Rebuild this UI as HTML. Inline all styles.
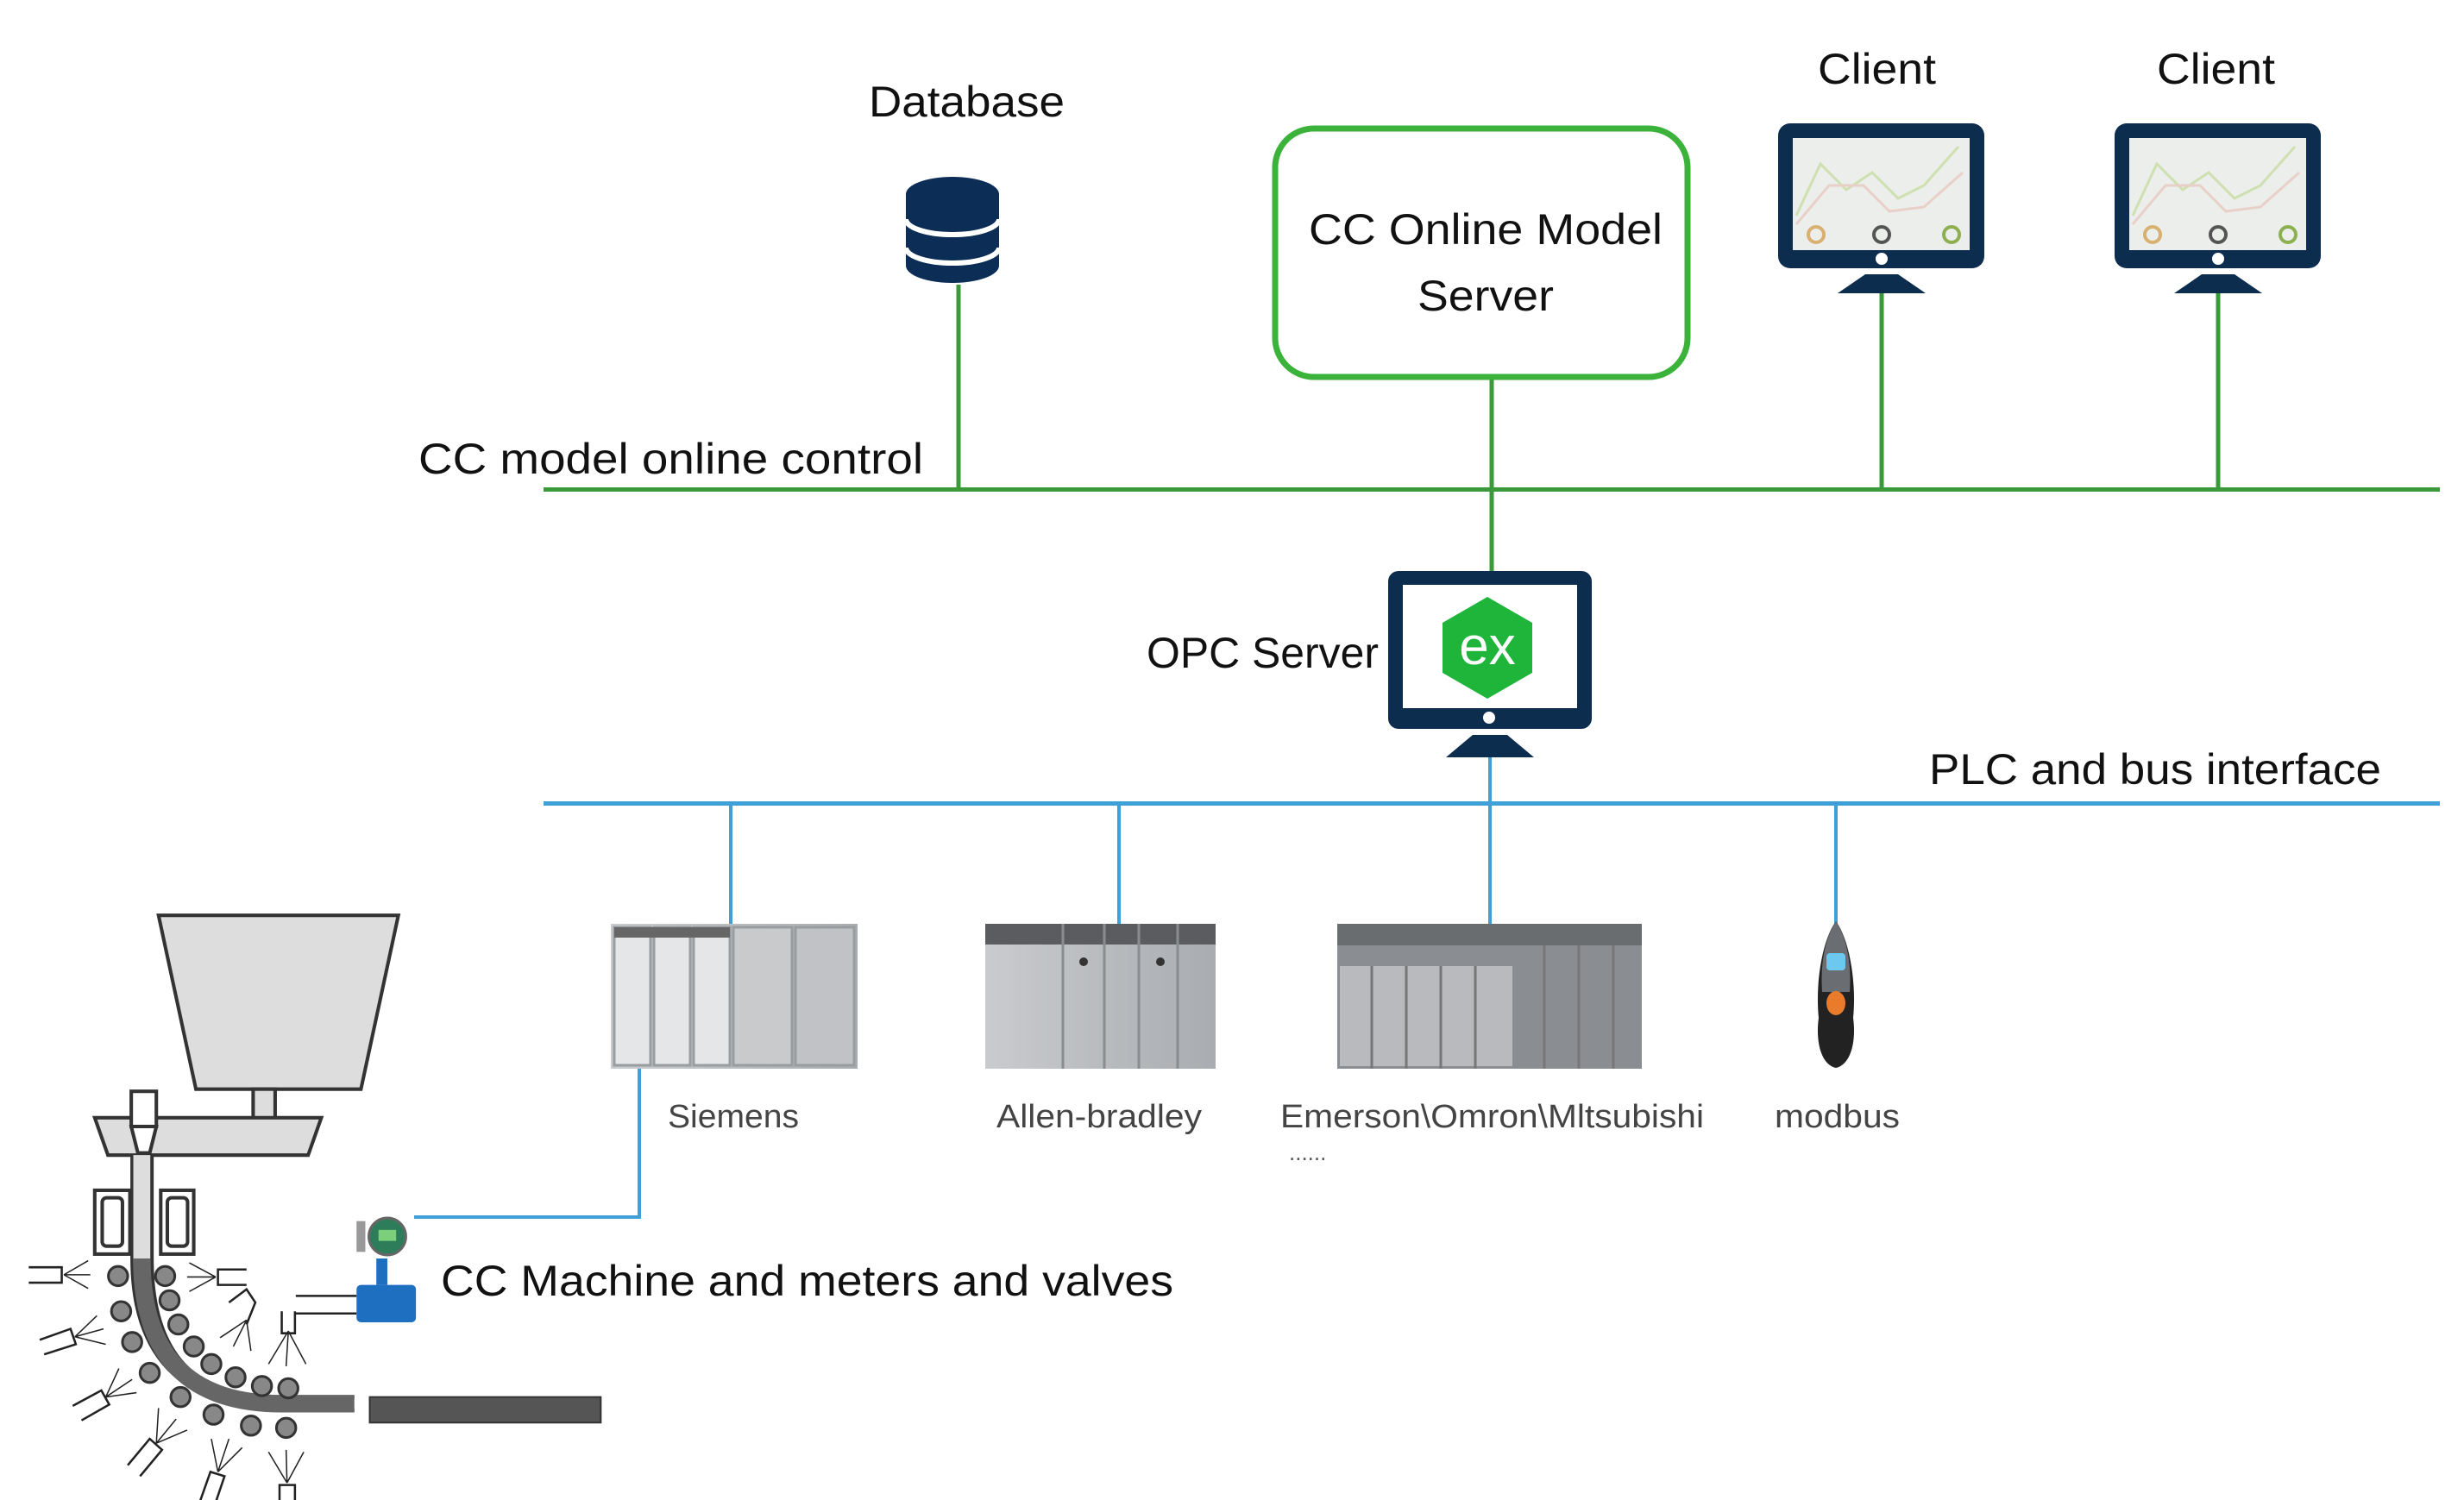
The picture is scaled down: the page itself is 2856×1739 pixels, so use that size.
<!DOCTYPE html>
<html><head><meta charset="utf-8"><style>
html,body{margin:0;padding:0;background:#fff;}
svg{display:block;}
text{font-family:"Liberation Sans",sans-serif;fill:#111;}
</style></head><body>
<svg width="2856" height="1739" viewBox="0 0 2856 1739" xmlns="http://www.w3.org/2000/svg">
<defs>
<linearGradient id="pg" x1="0" x2="1"><stop offset="0" stop-color="#c9cbce"/><stop offset="1" stop-color="#a9acb0"/></linearGradient>
</defs>
<!-- buses -->
<rect x="630" y="565" width="2198" height="5" fill="#3a9a3a"/>
<rect x="630" y="929" width="2198" height="5" fill="#3fa0d8"/>
<!-- green verticals -->
<g stroke="#3a9a3a" stroke-width="5">
<line x1="1111" y1="330" x2="1111" y2="567"/>
<line x1="1729" y1="439" x2="1729" y2="662"/>
<line x1="2181" y1="340" x2="2181" y2="567"/>
<line x1="2571" y1="340" x2="2571" y2="567"/>
</g>
<!-- blue verticals -->
<g stroke="#3fa0d8" stroke-width="4" fill="none">
<line x1="847" y1="931" x2="847" y2="1071"/>
<line x1="1297" y1="931" x2="1297" y2="1071"/>
<line x1="1727" y1="878" x2="1727" y2="1071"/>
<line x1="2128" y1="931" x2="2128" y2="1071"/>
<polyline points="741,1239 741,1411 480,1411"/>
</g>
<!-- database -->
<g fill="#0c2d55">
<path d="M1050 225 A54 20 0 0 1 1158 225 L1158 308 A54 20 0 0 1 1050 308 Z"/>
</g>
<path d="M1050 254 A54 18 0 0 0 1158 254" stroke="#fff" stroke-width="6" fill="none"/>
<path d="M1050 287 A54 18 0 0 0 1158 287" stroke="#fff" stroke-width="6" fill="none"/>
<text x="1007" y="135" font-size="50" textLength="227" lengthAdjust="spacingAndGlyphs">Database</text>
<!-- model server box -->
<rect x="1478" y="149" width="478" height="288" rx="45" fill="#fff" stroke="#3bb33b" stroke-width="7"/>
<text x="1517" y="283" font-size="50" textLength="410" lengthAdjust="spacingAndGlyphs">CC Online Model</text>
<text x="1643" y="360" font-size="50" textLength="158" lengthAdjust="spacingAndGlyphs">Server</text>
<!-- clients -->
<g id="mon">
<rect x="2061" y="143" width="239" height="168" rx="14" fill="#0c2d4e"/>
<rect x="2078" y="160" width="205" height="130" fill="#eceeec"/>
<polyline points="2082,250 2110,190 2140,220 2170,200 2200,230 2230,215 2270,170" fill="none" stroke="#cfe0b0" stroke-width="3"/>
<polyline points="2082,260 2120,215 2160,215 2190,245 2230,240 2275,200" fill="none" stroke="#e8d0c8" stroke-width="3"/>
<circle cx="2105" cy="272" r="9" fill="none" stroke="#d8b070" stroke-width="4"/>
<circle cx="2181" cy="272" r="9" fill="none" stroke="#555" stroke-width="4"/>
<circle cx="2262" cy="272" r="9" fill="none" stroke="#8cb050" stroke-width="4"/>
<circle cx="2181" cy="300" r="7" fill="#fff"/>
<polygon points="2162,318 2200,318 2232,340 2130,340" fill="#0c2d4e"/>
</g>
<use href="#mon" transform="translate(390,0)"/>
<text x="2107" y="97" font-size="50" textLength="137" lengthAdjust="spacingAndGlyphs">Client</text>
<text x="2500" y="97" font-size="50" textLength="137" lengthAdjust="spacingAndGlyphs">Client</text>
<text x="485" y="549" font-size="50" textLength="585" lengthAdjust="spacingAndGlyphs">CC model online control</text>
<!-- OPC monitor -->
<rect x="1609" y="662" width="236" height="183" rx="12" fill="#0c2d4e"/>
<rect x="1626" y="678" width="202" height="143" fill="#fff"/>
<polygon points="1724,692 1776,722 1776,780 1724,810 1672,780 1672,722" fill="#1fb53a"/>
<text x="1724" y="770" font-size="62" text-anchor="middle" style="fill:#fff">ex</text>
<circle cx="1726" cy="832" r="7" fill="#fff"/>
<polygon points="1707,852 1747,852 1778,878 1676,878" fill="#0c2d4e"/>
<text x="1329" y="774" font-size="50" textLength="269" lengthAdjust="spacingAndGlyphs">OPC Server</text>
<text x="2236" y="909" font-size="50" textLength="524" lengthAdjust="spacingAndGlyphs">PLC and bus interface</text>
<!-- Siemens PLC -->
<rect x="708" y="1071" width="286" height="168" fill="url(#pg)"/>
<g fill="#e4e6e8" stroke="#9a9da0" stroke-width="3">
<rect x="712" y="1075" width="42" height="160"/><rect x="758" y="1075" width="42" height="160"/><rect x="804" y="1075" width="42" height="160"/>
<rect x="850" y="1075" width="68" height="160" fill="#c8cacc"/><rect x="922" y="1075" width="68" height="160" fill="#c0c2c5"/>
</g>
<rect x="712" y="1075" width="134" height="12" fill="#666"/>
<!-- Allen-bradley -->
<rect x="1142" y="1071" width="267" height="168" fill="url(#pg)"/>
<rect x="1142" y="1071" width="267" height="24" fill="#5a5c60"/>
<g stroke="#8a8d90" stroke-width="3"><line x1="1232" y1="1071" x2="1232" y2="1239"/><line x1="1280" y1="1071" x2="1280" y2="1239"/><line x1="1320" y1="1071" x2="1320" y2="1239"/><line x1="1365" y1="1071" x2="1365" y2="1239"/></g>
<circle cx="1256" cy="1115" r="5" fill="#333"/><circle cx="1345" cy="1115" r="5" fill="#333"/>
<!-- Emerson -->
<rect x="1550" y="1071" width="353" height="168" fill="#8a8d91"/>
<rect x="1550" y="1071" width="353" height="25" fill="#6a6d70"/>
<rect x="1553" y="1120" width="200" height="116" fill="#b8babd"/>
<g stroke="#777" stroke-width="3"><line x1="1590" y1="1120" x2="1590" y2="1239"/><line x1="1630" y1="1120" x2="1630" y2="1239"/><line x1="1670" y1="1120" x2="1670" y2="1239"/><line x1="1710" y1="1120" x2="1710" y2="1239"/><line x1="1790" y1="1096" x2="1790" y2="1239"/><line x1="1830" y1="1096" x2="1830" y2="1239"/><line x1="1870" y1="1096" x2="1870" y2="1239"/></g>
<!-- modbus -->
<path d="M2128 1068 C2112 1090 2104 1140 2108 1180 C2104 1210 2112 1235 2128 1238 C2144 1235 2152 1210 2148 1180 C2152 1140 2144 1090 2128 1068 Z" fill="#222"/>
<path d="M2128 1068 C2114 1090 2110 1120 2112 1150 L2144 1150 C2146 1120 2142 1090 2128 1068 Z" fill="#6a6d72"/>
<rect x="2117" y="1105" width="22" height="20" rx="4" fill="#6cc8ee"/>
<ellipse cx="2128" cy="1163" rx="11" ry="14" fill="#e97b2a"/>
<text x="774" y="1307" font-size="38" textLength="152" lengthAdjust="spacingAndGlyphs" style="fill:#444">Siemens</text>
<text x="1155" y="1307" font-size="38" textLength="238" lengthAdjust="spacingAndGlyphs" style="fill:#444">Allen-bradley</text>
<text x="1484" y="1307" font-size="38" textLength="491" lengthAdjust="spacingAndGlyphs" style="fill:#444">Emerson\Omron\Mltsubishi</text>
<text x="2057" y="1307" font-size="38" textLength="145" lengthAdjust="spacingAndGlyphs" style="fill:#444">modbus</text>
<text x="1494" y="1345" font-size="26" style="fill:#555">......</text>
<text x="511" y="1502" font-size="50" textLength="849" lengthAdjust="spacingAndGlyphs">CC Machine and meters and valves</text>
<!-- CC machine -->
<svg x="0" y="1000" width="800" height="739" viewBox="0 0 1568 1449">
<g stroke="#333" stroke-width="8" fill="#ddd">
<polygon points="360,120 905,120 820,515 445,515"/>
<rect x="575" y="515" width="50" height="110"/>
<polygon points="215,580 730,580 700,665 245,665"/>
<rect x="298" y="520" width="57" height="80" fill="#fff"/>
<polygon points="298,600 355,600 340,660 313,660" fill="#fff"/>
<rect x="215" y="745" width="80" height="145" fill="#fff"/><rect x="232" y="762" width="46" height="110" rx="10" fill="#fff"/>
<rect x="365" y="745" width="75" height="145" fill="#fff"/><rect x="380" y="762" width="46" height="110" rx="10" fill="#fff"/>
</g>
<path d="M300 665 L300 900 Q300 1240 650 1245 L805 1245" stroke="#333" stroke-width="8" fill="none"/>
<path d="M345 665 L345 900 Q345 1215 620 1215 L805 1215" stroke="#333" stroke-width="8" fill="none"/>
<path d="M322 665 L322 900 Q322 1230 640 1230 L805 1230" stroke="#666" stroke-width="40" fill="none"/>
<path d="M322 665 L322 900" stroke="#ddd" stroke-width="38"/>
<rect x="840" y="1215" width="525" height="58" fill="#555" stroke="#333" stroke-width="4"/>
<g fill="#888" stroke="#333" stroke-width="6">
<circle cx="268" cy="940" r="22"/><circle cx="375" cy="940" r="22"/>
<circle cx="275" cy="1020" r="22"/><circle cx="385" cy="995" r="22"/>
<circle cx="300" cy="1090" r="22"/><circle cx="405" cy="1050" r="22"/>
<circle cx="340" cy="1160" r="22"/><circle cx="440" cy="1100" r="22"/>
<circle cx="410" cy="1215" r="22"/><circle cx="480" cy="1140" r="22"/>
<circle cx="485" cy="1255" r="22"/><circle cx="535" cy="1170" r="22"/>
<circle cx="570" cy="1280" r="22"/><circle cx="595" cy="1190" r="22"/>
<circle cx="650" cy="1285" r="22"/><circle cx="655" cy="1195" r="22"/>
</g>
<g stroke="#222" stroke-width="5" fill="none">
<path d="M65 920 H140 V955 H65"/><path d="M560 925 H495 V960 H560"/>
<path d="M90 1085 L160 1060 L172 1095 L100 1118"/><path d="M165 1235 L230 1200 L248 1232 L185 1268"/>
<path d="M290 1370 L340 1310 L368 1335 L318 1395"/><path d="M455 1450 L478 1385 L510 1395 L488 1460"/>
<path d="M635 1485 V1415 H670 V1485"/><path d="M672 985 H810 M672 1025 H810"/>
<path d="M640 1020 V1070 H670 V1020"/><path d="M520 1000 L560 970 L580 1000 L560 1050"/>
</g>
<g stroke="#222" stroke-width="3">
<path d="M145 937 L200 905 M145 937 L205 937 M145 937 L200 968"/>
<path d="M490 942 L430 910 M490 942 L425 942 M490 942 L430 975"/>
<path d="M170 1078 L220 1030 M170 1078 L235 1060 M170 1078 L240 1095"/>
<path d="M240 1215 L270 1150 M240 1215 L300 1175 M240 1215 L310 1205"/>
<path d="M355 1320 L360 1240 M355 1320 L400 1265 M355 1320 L425 1290"/>
<path d="M495 1385 L480 1310 M495 1385 L520 1310 M495 1385 L550 1330"/>
<path d="M652 1410 L610 1340 M652 1410 L650 1335 M652 1410 L690 1340"/>
<path d="M655 1065 L610 1140 M655 1065 L650 1145 M655 1065 L695 1140"/>
<path d="M560 1040 L500 1080 M560 1040 L530 1100 M560 1040 L570 1110"/>
</g>
<rect x="810" y="960" width="135" height="85" rx="10" fill="#1f6fc0"/>
<rect x="855" y="900" width="25" height="60" fill="#1f6fc0"/>
<rect x="810" y="815" width="20" height="70" fill="#999"/>
<circle cx="880" cy="850" r="42" fill="#2e7d5a" stroke="#666" stroke-width="6"/>
<rect x="860" y="835" width="40" height="25" fill="#7cd07c"/>
</svg>
</svg>
</body></html>
